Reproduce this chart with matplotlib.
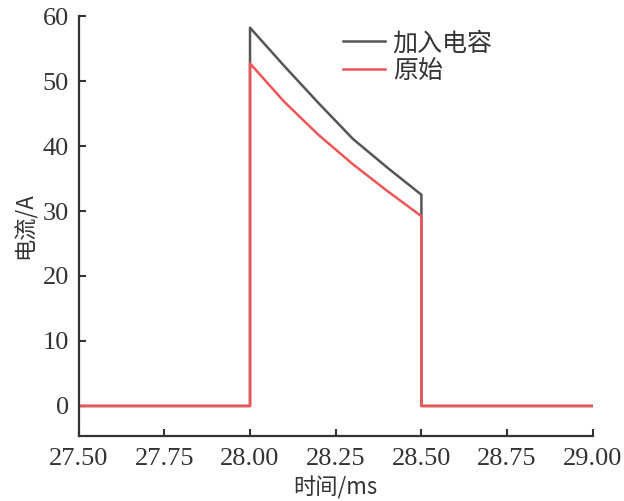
import numpy as np
import matplotlib.pyplot as plt

# ============================================================================ #
# DADOS
# ============================================================================ #

t_capacitor = [27.5, 28.0, 28.0, 28.1, 28.2, 28.3, 28.4, 28.5, 28.5, 29.0]
i_capacitor = [0.0, 0.0, 58.2, 52.3, 46.6, 41.1, 36.7, 32.5, 0.0, 0.0]

t_original = [27.5, 28.0, 28.0, 28.1, 28.2, 28.3, 28.4, 28.5, 28.5, 29.0]
i_original = [0.0, 0.0, 52.7, 46.8, 41.7, 37.2, 33.1, 29.2, 0.0, 0.0]

x_ticks = [27.50, 27.75, 28.00, 28.25, 28.50, 28.75, 29.00]
y_ticks = [0, 10, 20, 30, 40, 50, 60]

# ============================================================================ #
# FIGURA
# ============================================================================ #

plt.rcParams['font.family'] = ['Liberation Serif', 'Noto Sans CJK SC']
cjk = ['Noto Sans CJK SC']

fig = plt.figure(figsize=(6.24, 5.01), dpi=100)
ax = fig.add_axes([0.126, 0.130, 0.824, 0.838])

ax.plot(t_capacitor, i_capacitor, color='#555555', lw=1.8, label='加入电容')
ax.plot(t_original, i_original, color='#f05555', lw=1.8, label='原始')

ax.set_xlim(27.5, 29.0)
ax.set_ylim(-4.6, 60)
ax.set_xticks(x_ticks)
ax.set_xticklabels([f'{v:.2f}' for v in x_ticks])
ax.set_yticks(y_ticks)

for s in ['top', 'right']:
    ax.spines[s].set_visible(False)
for s in ['left', 'bottom']:
    ax.spines[s].set_linewidth(1.6)
    ax.spines[s].set_color('#333333')

ax.tick_params(direction='in', length=5, width=1.5, color='#333333',
               labelsize=19, labelcolor='#333333')
ax.tick_params(axis='x', pad=9)
ax.tick_params(axis='y', pad=7)

ax.set_xlabel('时间/ms', fontsize=16, family=cjk, color='#333333', labelpad=4)
ax.set_ylabel('电流/A', fontsize=16, family=cjk, color='#333333', labelpad=4)

leg = ax.legend(loc='upper left', bbox_to_anchor=(0.47, 1.02), frameon=False,
                prop={'family': cjk, 'size': 18}, handlelength=1.7,
                labelspacing=0.08, handletextpad=0.3)
for txt in leg.get_texts():
    txt.set_color('#333333')

fig.savefig('out.png', dpi=100)
